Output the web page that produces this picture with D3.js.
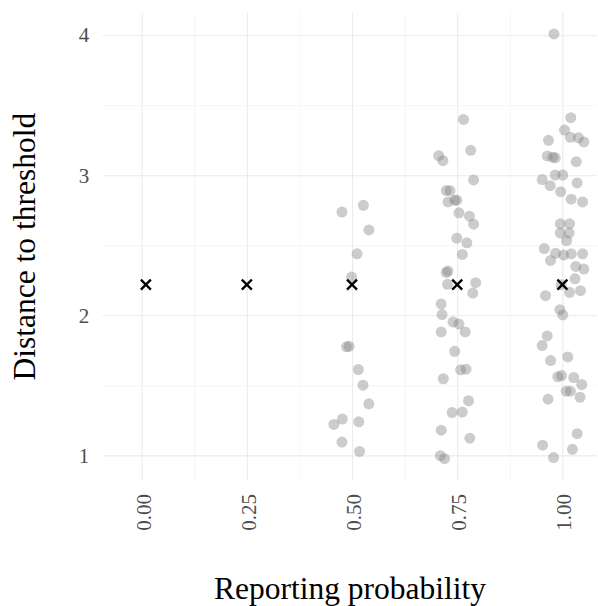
<!DOCTYPE html>
<html>
<head>
<meta charset="utf-8">
<script src="https://cdn.jsdelivr.net/npm/d3@7"></script>
<style>
  body { margin: 0; background: #fff; }
  text { font-family: "Liberation Serif", "Times New Roman", serif; }
</style>
</head>
<body>
<svg id="chart" width="598" height="606"></svg>
<script>
// axis breaks
var xTicks = [0, 0.25, 0.5, 0.75, 1],
    xMinor = [0.125, 0.375, 0.625, 0.875],
    yTicks = [1, 2, 3, 4],
    yMinor = [1.5, 2.5, 3.5];

// jittered observations, reporting probability 0.5
var jitterHalf = [0.476, 0.527, 0.540, 0.512, 0.499, 0.487, 0.493, 0.515, 0.526, 0.540, 0.477, 0.457, 0.516, 0.476, 0.518],
    distHalf   = [2.737, 2.786, 2.610, 2.439, 2.273, 1.775, 1.779, 1.613, 1.501, 1.368, 1.259, 1.221, 1.240, 1.095, 1.028];

// reporting probability 0.75
var jitterThreeQ = [0.765, 0.706, 0.716, 0.782, 0.789, 0.724, 0.733, 0.728, 0.744, 0.749, 0.754, 0.779, 0.789,
                    0.749, 0.773, 0.762, 0.724, 0.728, 0.727, 0.794, 0.787, 0.712, 0.714, 0.740, 0.754, 0.769,
                    0.712, 0.744, 0.758, 0.771, 0.717, 0.777, 0.738, 0.762, 0.712, 0.780, 0.710, 0.720],
    distThreeQ   = [3.399, 3.140, 3.104, 3.178, 2.967, 2.891, 2.891, 2.810, 2.822, 2.822, 2.732, 2.708, 2.651,
                    2.551, 2.518, 2.435, 2.306, 2.316, 2.221, 2.233, 2.159, 2.081, 2.005, 1.953, 1.938, 1.881,
                    1.881, 1.743, 1.611, 1.615, 1.547, 1.390, 1.306, 1.309, 1.180, 1.123, 0.998, 0.976];

// reporting probability 1
var jitterOne = [0.980, 1.020, 1.005, 0.967, 1.019, 1.038, 1.051, 0.964, 0.977, 0.983, 1.033, 0.983, 1.001, 0.952,
                 1.035, 0.971, 0.996, 1.021, 1.048, 0.995, 1.017, 0.995, 1.016, 1.010, 0.957, 0.984, 1.003, 1.021,
                 1.048, 0.972, 1.032, 1.051, 1.030, 0.997, 1.017, 1.043, 0.960, 0.994, 1.001, 0.964, 0.952, 1.013,
                 0.972, 0.989, 0.998, 1.027, 1.046, 1.009, 1.019, 0.966, 1.042, 1.035, 0.953, 1.024, 0.979],
    distOne   = [4.009, 3.411, 3.323, 3.250, 3.271, 3.268, 3.238, 3.138, 3.129, 3.125, 3.097, 3.002, 3.002, 2.969,
                 2.945, 2.926, 2.883, 2.829, 2.810, 2.653, 2.653, 2.587, 2.587, 2.534, 2.477, 2.444, 2.430, 2.439,
                 2.439, 2.392, 2.349, 2.330, 2.261, 2.219, 2.164, 2.176, 2.140, 2.040, 2.003, 1.853, 1.784, 1.703,
                 1.677, 1.561, 1.570, 1.556, 1.506, 1.458, 1.458, 1.401, 1.415, 1.155, 1.073, 1.043, 0.984];

// threshold markers
var markerProb = [0.01, 0.25, 0.5, 0.75, 1],
    markerDist = [2.219, 2.219, 2.219, 2.219, 2.219];

var width = 598,
    height = 606,
    margin = {top: 12.7, right: 0.7, bottom: 125.3, left: 102.7},
    tickFont = 21,
    titleFont = 31.5;

var svg = d3.select("#chart");

var x = d3.scaleLinear().domain([-0.0926, 1.083]).range([margin.left, width - margin.right]),
    y = d3.scaleLinear().domain([0.819, 4.161]).range([height - margin.bottom, margin.top]);

var panelW = width - margin.left - margin.right,
    panelH = height - margin.top - margin.bottom;

function grid(g, color, size) {
  g.select(".domain").remove();
  g.selectAll("line").attr("stroke", color).attr("stroke-width", size);
}

// minor grid
svg.append("g")
    .attr("transform", "translate(0," + (height - margin.bottom) + ")")
    .call(d3.axisBottom(x).tickValues(xMinor).tickSize(-panelH).tickFormat(""))
    .call(grid, "#eeeeee", 0.6);
svg.append("g")
    .attr("transform", "translate(" + margin.left + ",0)")
    .call(d3.axisLeft(y).tickValues(yMinor).tickSize(-panelW).tickFormat(""))
    .call(grid, "#eeeeee", 0.6);

// major grid + labels
var gx = svg.append("g")
    .attr("transform", "translate(0," + (height - margin.bottom) + ")")
    .call(d3.axisBottom(x).tickValues(xTicks).tickSize(-panelH).tickFormat(d3.format(".2f")))
    .call(grid, "#ebebeb", 1.1);
gx.selectAll("text")
    .attr("transform", "rotate(-90)")
    .attr("x", -13.3)
    .attr("y", 0)
    .attr("dy", "0.4em")
    .attr("text-anchor", "end")
    .attr("fill", "#4d4d4d")
    .style("font-size", tickFont + "px");

var gy = svg.append("g")
    .attr("transform", "translate(" + margin.left + ",0)")
    .call(d3.axisLeft(y).tickValues(yTicks).tickSize(-panelW).tickPadding(13.5).tickFormat(d3.format("d")))
    .call(grid, "#ebebeb", 1.1);
gy.selectAll("text")
    .attr("fill", "#4d4d4d")
    .style("font-size", tickFont + "px");

// points
var obs = [];
[[jitterHalf, distHalf], [jitterThreeQ, distThreeQ], [jitterOne, distOne]].forEach(function(s) {
  s[0].forEach(function(p, i) { obs.push({p: p, d: s[1][i]}); });
});

svg.append("g").selectAll("circle")
    .data(obs)
  .enter().append("circle")
    .attr("cx", function(d) { return x(d.p); })
    .attr("cy", function(d) { return y(d.d); })
    .attr("r", 5.5)
    .attr("fill", "#808080")
    .attr("fill-opacity", 0.4);

svg.append("g").selectAll("path")
    .data(markerProb)
  .enter().append("path")
    .attr("transform", function(d, i) { return "translate(" + x(d) + "," + y(markerDist[i]) + ")"; })
    .attr("d", "M-5,-5L5,5M-5,5L5,-5")
    .attr("stroke", "#000")
    .attr("stroke-width", 2.3)
    .attr("fill", "none");

// titles
svg.append("text")
    .attr("x", margin.left + panelW / 2)
    .attr("y", 599)
    .attr("text-anchor", "middle")
    .style("font-size", titleFont + "px")
    .text("Reporting probability");

svg.append("text")
    .attr("transform", "translate(35," + (margin.top + panelH / 2) + ") rotate(-90)")
    .attr("text-anchor", "middle")
    .style("font-size", titleFont + "px")
    .text("Distance to threshold");
</script>
</body>
</html>
